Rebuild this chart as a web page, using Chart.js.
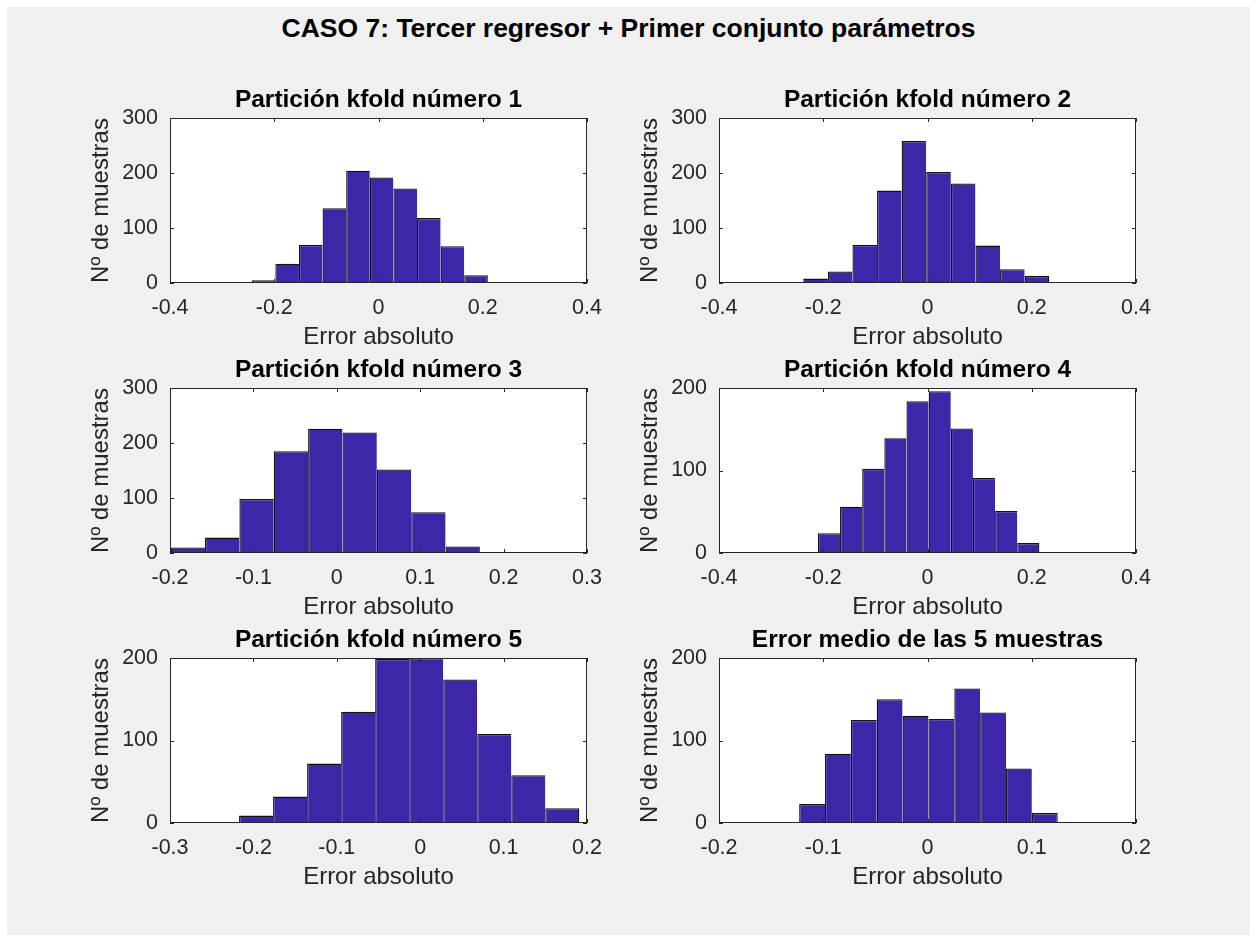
<!DOCTYPE html>
<html lang="es">
<head>
<meta charset="utf-8">
<title>CASO 7: Tercer regresor + Primer conjunto parámetros</title>
<script src="https://cdn.jsdelivr.net/npm/chart.js@4/dist/chart.umd.min.js"></script>
<style>
  html, body { margin: 0; padding: 0; background: #ffffff; }
  body { width: 1250px; height: 935px; position: relative; overflow: hidden;
         font-family: "Liberation Sans", Arial, Helvetica, sans-serif; }
  #figure { position: absolute; left: 7px; top: 7px; right: 0; bottom: 0; background: #f0f0f0; }
  #suptitle { position: absolute; left: 7px; width: 1243px; top: 15px; text-align: center;
              font-weight: bold; font-size: 26.5px; line-height: 26.5px; color: #000; white-space: nowrap; }
  canvas { position: absolute; }
</style>
</head>
<body>
<div id="figure"></div>
<div id="suptitle">CASO 7: Tercer regresor + Primer conjunto parámetros</div>
<canvas id="h1" width="541" height="273" style="left:70px;top:82px"></canvas>
<canvas id="h2" width="541" height="273" style="left:619px;top:82px"></canvas>
<canvas id="h3" width="541" height="273" style="left:70px;top:352px"></canvas>
<canvas id="h4" width="541" height="273" style="left:619px;top:352px"></canvas>
<canvas id="h5" width="541" height="273" style="left:70px;top:622px"></canvas>
<canvas id="h6" width="541" height="273" style="left:619px;top:622px"></canvas>
<script>
// Histogram bin edges (11 per panel) and counts (10 per panel)
const edges1 = [-0.2432, -0.1979, -0.1526, -0.1073, -0.0620, -0.0167, 0.0286, 0.0739, 0.1192, 0.1645, 0.2098];
const counts1 = [5, 35, 69, 136, 204, 192, 172, 118, 67, 14];

const edges2 = [-0.2384, -0.1912, -0.1440, -0.0968, -0.0496, -0.0024, 0.0448, 0.0920, 0.1392, 0.1864, 0.2336];
const counts2 = [8, 21, 69, 168, 258, 202, 181, 68, 25, 13];

const edges3 = [-0.1992, -0.1580, -0.1168, -0.0756, -0.0344, 0.0068, 0.0480, 0.0892, 0.1304, 0.1716, 0.2128];
const counts3 = [10, 28, 98, 185, 226, 219, 152, 74, 12, 2];

const edges4 = [-0.2103, -0.1678, -0.1253, -0.0828, -0.0403, 0.0022, 0.0447, 0.0872, 0.1297, 0.1722, 0.2147];
const counts4 = [24, 56, 102, 139, 184, 196, 151, 91, 51, 12];

const edges5 = [-0.2172, -0.1764, -0.1356, -0.0948, -0.0540, -0.0132, 0.0276, 0.0684, 0.1092, 0.1500, 0.1908];
const counts5 = [9, 32, 72, 135, 199, 200, 174, 108, 58, 18];

const edges6 = [-0.1231, -0.0983, -0.0735, -0.0487, -0.0239, 0.0009, 0.0257, 0.0505, 0.0753, 0.1001, 0.1249];
const counts6 = [23, 84, 125, 150, 130, 126, 163, 134, 66, 12];

// Axis ticks
const xTicksWide = [-0.4, -0.2, 0, 0.2, 0.4];
const xTicks3 = [-0.2, -0.1, 0, 0.1, 0.2, 0.3];
const xTicks5 = [-0.3, -0.2, -0.1, 0, 0.1, 0.2];
const xTicks6 = [-0.2, -0.1, 0, 0.1, 0.2];
const yTicks300 = [0, 100, 200, 300];
const yTicks200 = [0, 100, 200];

// Panel titles and axis labels
const panelTitles = [
  'Partición kfold número 1',
  'Partición kfold número 2',
  'Partición kfold número 3',
  'Partición kfold número 4',
  'Partición kfold número 5',
  'Error medio de las 5 muestras'
];
const xLabel = 'Error absoluto';
const yLabel = 'Nº de muestras';

const FONT = '"Liberation Sans", Arial, Helvetica, sans-serif';
const AXIS_COLOR = '#262626';
const BAR_COLOR = 'rgb(62, 38, 168)';
const EDGE_COLOR = '#111111';
const EDGE_W = 1.3;
const TICK_LEN = 4;

// White plot background, box and inward ticks on all four sides
const axesBox = {
  id: 'axesBox',
  beforeDraw(chart) {
    const { ctx, chartArea: a } = chart;
    ctx.save();
    ctx.fillStyle = '#ffffff';
    ctx.fillRect(a.left, a.top, a.right - a.left, a.bottom - a.top);
    ctx.restore();
  },
  afterDraw(chart) {
    const { ctx, chartArea: a, scales } = chart;
    const xs = scales.x, ys = scales.y;
    ctx.save();
    ctx.strokeStyle = AXIS_COLOR;
    ctx.lineWidth = 1;
    ctx.beginPath();
    xs.ticks.forEach(t => {
      const px = Math.round(xs.getPixelForValue(t.value)) + 0.5;
      ctx.moveTo(px, a.top); ctx.lineTo(px, a.top + TICK_LEN);
      ctx.moveTo(px, a.bottom); ctx.lineTo(px, a.bottom - TICK_LEN);
    });
    ys.ticks.forEach(t => {
      const py = Math.round(ys.getPixelForValue(t.value)) + 0.5;
      ctx.moveTo(a.left, py); ctx.lineTo(a.left + TICK_LEN, py);
      ctx.moveTo(a.right, py); ctx.lineTo(a.right - TICK_LEN, py);
    });
    ctx.stroke();
    ctx.strokeRect(Math.round(a.left) + 0.5, Math.round(a.top) + 0.5,
                   Math.round(a.right - a.left) - 1, Math.round(a.bottom - a.top) - 1);
    ctx.restore();
  }
};

function histogram(canvasId, title, edges, counts, xTicks, yTicks) {
  const points = counts.map((c, i) => ({ x: (edges[i] + edges[i + 1]) / 2, y: c }));
  const fixedTicks = list => scale => { scale.ticks = list.map(v => ({ value: v })); };
  const last = counts.length - 1;
  return new Chart(document.getElementById(canvasId), {
    type: 'bar',
    data: {
      datasets: [{
        data: points,
        backgroundColor: BAR_COLOR,
        borderColor: EDGE_COLOR,
        // one shared edge line between neighbouring bins
        borderWidth: c => ({ top: EDGE_W, left: EDGE_W, right: c.dataIndex === last ? EDGE_W : 0, bottom: 0 }),
        borderSkipped: false,
        categoryPercentage: 1,
        barPercentage: 1,
        inflateAmount: 0
      }]
    },
    options: {
      responsive: false,
      animation: false,
      events: [],
      layout: { padding: { left: 0, top: 0, right: 24, bottom: 0 }, autoPadding: false },
      plugins: {
        legend: { display: false },
        tooltip: { enabled: false },
        title: {
          display: true,
          fullSize: false,
          text: title,
          color: '#000000',
          font: { family: FONT, size: 24.5, weight: 'bold', lineHeight: 1.2 },
          padding: { top: 3.6, bottom: 3 }
        }
      },
      scales: {
        x: {
          type: 'linear',
          offset: false,
          min: xTicks[0],
          max: xTicks[xTicks.length - 1],
          afterBuildTicks: fixedTicks(xTicks),
          afterFit: s => { s.height = 72; s.paddingLeft = 0; s.paddingRight = 0; },
          grid: { display: false, drawTicks: false },
          border: { display: false },
          ticks: {
            color: AXIS_COLOR, padding: 12, maxRotation: 0, autoSkip: false,
            font: { family: FONT, size: 21.5 },
            callback: v => String(v)
          },
          title: {
            display: true, text: xLabel, color: AXIS_COLOR,
            font: { family: FONT, size: 24, lineHeight: 1.2 },
            padding: { top: 0, bottom: 3.2 }
          }
        },
        y: {
          type: 'linear',
          min: yTicks[0],
          max: yTicks[yTicks.length - 1],
          afterBuildTicks: fixedTicks(yTicks),
          afterFit: s => { s.width = 100; s.paddingTop = 0; s.paddingBottom = 0; },
          grid: { display: false, drawTicks: false },
          border: { display: false },
          ticks: {
            color: AXIS_COLOR, padding: 12, autoSkip: false,
            font: { family: FONT, size: 21.5 },
            callback: v => String(v)
          },
          title: {
            display: true, text: yLabel, color: AXIS_COLOR,
            font: { family: FONT, size: 24, lineHeight: 1.2 },
            padding: { top: 16.8, bottom: 0 }
          }
        }
      }
    },
    plugins: [axesBox]
  });
}

histogram('h1', panelTitles[0], edges1, counts1, xTicksWide, yTicks300);
histogram('h2', panelTitles[1], edges2, counts2, xTicksWide, yTicks300);
histogram('h3', panelTitles[2], edges3, counts3, xTicks3, yTicks300);
histogram('h4', panelTitles[3], edges4, counts4, xTicksWide, yTicks200);
histogram('h5', panelTitles[4], edges5, counts5, xTicks5, yTicks200);
histogram('h6', panelTitles[5], edges6, counts6, xTicks6, yTicks200);
</script>
</body>
</html>
